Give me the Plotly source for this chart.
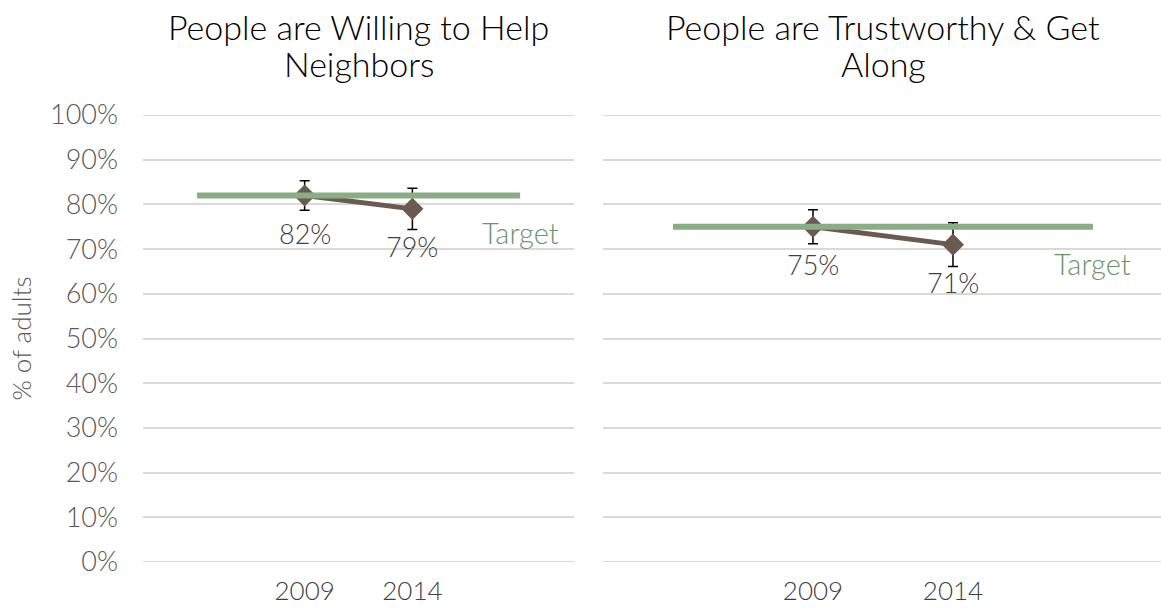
import plotly.graph_objects as go

# Survey results: share of adults agreeing, with margins of error
panel_titles = [["People are Willing to Help", "Neighbors"],
                ["People are Trustworthy &amp; Get", "Along"]]
years = ["2009", "2014"]
year_slots = [1, 2]            # category slots holding survey years
target_slots = [0, 1, 2, 3]    # target line spans the full category band

help_values = [0.82, 0.79]
help_errors = [0.033, 0.046]
help_target = 0.82

trust_values = [0.75, 0.71]
trust_errors = [0.038, 0.049]
trust_target = 0.75

y_ticks = [i / 10 for i in range(11)]
y_ticklabels = [f"{int(v * 100)}%" for v in y_ticks]

FONT = "Lato"
LIGHT = 300
BROWN = "#6b5a50"
GREEN = "#8aad86"
GREEN_TEXT = "#6a9566"
GRID = "#d9d9d9"
W, H = 1161, 609
M_TOP, M_BOTTOM = 115, 47
PLOT_H = H - M_TOP - M_BOTTOM

fig = go.Figure()

panels = [
    ("x", "y", help_values, help_errors, help_target),
    ("x2", "y2", trust_values, trust_errors, trust_target),
]

for xa, ya, vals, errs, target in panels:
    fig.add_trace(go.Scatter(
        x=year_slots, y=vals, xaxis=xa, yaxis=ya,
        mode="lines+markers",
        line=dict(color=BROWN, width=5),
        marker=dict(symbol="diamond", size=17, color=BROWN),
        error_y=dict(type="data", array=errs, visible=True,
                     color="#000000", thickness=1.5, width=5),
        showlegend=False, hoverinfo="skip",
    ))
    fig.add_trace(go.Scatter(
        x=[target_slots[0], target_slots[-1]], y=[target, target],
        xaxis=xa, yaxis=ya, mode="lines",
        line=dict(color=GREEN, width=6),
        showlegend=False, hoverinfo="skip",
    ))
    # value labels beneath each point
    for xs, v in zip(year_slots, vals):
        fig.add_annotation(
            x=xs, y=v, xref=xa, yref=ya, text=f"{round(v * 100)}%",
            showarrow=False, yshift=-38,
            font=dict(family=FONT, size=27, color="#404040", weight=LIGHT),
        )
    fig.add_annotation(
        x=target_slots[-1], y=target, xref=xa, yref=ya, text="Target",
        showarrow=False, yshift=-37,
        font=dict(family=FONT, size=29, color=GREEN_TEXT, weight=LIGHT),
    )
    # top and bottom frame lines of the value grid
    for edge in (0, 1):
        fig.add_shape(
            type="line", xref=f"{xa} domain", yref=ya,
            x0=0, x1=1, y0=edge, y1=edge,
            line=dict(color=GRID, width=2), layer="below",
        )

# panel titles, one annotation per line for tight line spacing
title_centres = [(143 + 574) / 2 / W, (603 + 1163) / 2 / W]
line_px = [27, 63]
for lines, xc in zip(panel_titles, title_centres):
    for text, yp in zip(lines, line_px):
        fig.add_annotation(
            x=xc, y=(H - M_BOTTOM - yp) / PLOT_H, xref="paper", yref="paper",
            text=text, showarrow=False, xanchor="center", yanchor="middle",
            font=dict(family=FONT, size=34, color="#000000", weight=LIGHT),
        )

axis_common = dict(
    tickmode="array", tickvals=year_slots, ticktext=years,
    showgrid=False, zeroline=False, showline=False, ticks="",
    ticklabelstandoff=11, automargin=False,
    tickfont=dict(family=FONT, size=26, color="#404040", weight=LIGHT),
)
yaxis_common = dict(
    range=[0, 1.0], tickvals=y_ticks, ticktext=y_ticklabels,
    showgrid=True, gridcolor=GRID, gridwidth=2, zeroline=False,
    showline=False, ticks="", automargin=False,
)

fig.update_layout(
    width=W, height=H,
    margin=dict(l=0, r=0, t=M_TOP, b=M_BOTTOM),
    paper_bgcolor="white", plot_bgcolor="white",
    xaxis=dict(domain=[143 / W, 574 / W], range=[-0.5, 3.5], **axis_common),
    xaxis2=dict(domain=[603 / W, 1.0], range=[-0.5, 3.486], **axis_common),
    yaxis=dict(anchor="x", showticklabels=True, ticklabelstandoff=24,
               tickfont=dict(family=FONT, size=27, color="#595959", weight=LIGHT),
               title=dict(text="% of adults", standoff=10,
                          font=dict(family=FONT, size=26, color="#595959", weight=LIGHT)),
               **yaxis_common),
    yaxis2=dict(anchor="x2", showticklabels=False, **yaxis_common),
)

fig.write_html("out.html")
